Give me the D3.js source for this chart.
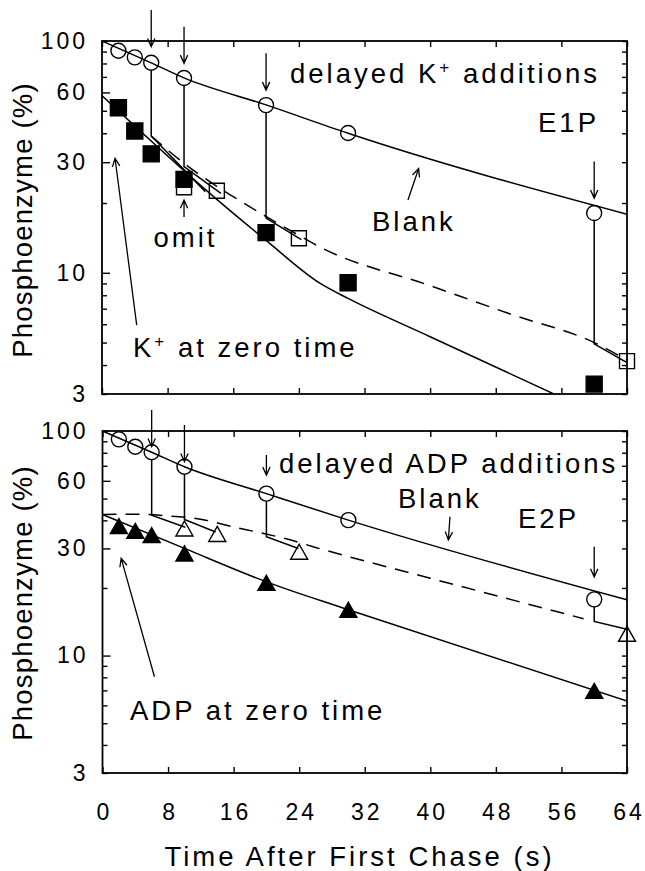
<!DOCTYPE html>
<html>
<head>
<meta charset="utf-8">
<script src="https://cdn.jsdelivr.net/npm/d3@7"></script>
<style>
  body { margin: 0; background: #fff; }
  svg { display: block; font-family: "Liberation Sans", Arial, Helvetica, sans-serif; }
</style>
</head>
<body>
<svg id="chart" width="645" height="871"></svg>
<script>
// sample times (s) of the blank and zero-time series
var sampleTimes = [ 2, 4, 6, 10, 20, 30, 60 ];
// ligand added late at these times, sampled 4 s later
var additionTimes = [ 6, 10, 20, 60 ];
var delayedTimes = [ 10, 14, 24, 64 ];

// ---- E1P panel (top), phosphoenzyme %
var e1pBlank = [ 90.8, 85.0, 80.6, 69.2, 52.9, 40.1, 18.1 ];
var e1pKZero = [ 51.5, 40.9, 32.6, 25.3, 14.9, 9.06, 3.31 ];
var e1pKDelayed = [ 23.4, 22.6, 14.1, 4.16 ];
var e1pDropBottom = [ 38.9, 28.7, 17.2, 4.94 ];
var e1pDropEnd = [ [ 12.6, 22.4 ], [ 14.5, 22.0 ], [ 24.3, 13.9 ], [ 64, 4.1 ] ];
// fitted curves as [time, %]
var e1pBlankFit = [ [ 0, 100 ], [ 6, 80.5 ], [ 10, 69.3 ], [ 20, 53 ], [ 30, 40 ], [ 64, 17.9 ] ];
var e1pKZeroFit = [ [ 0, 58 ], [ 13.6, 21.3 ], [ 20, 13.8 ], [ 26.6, 9.0 ], [ 30, 7.75 ], [ 40, 5.3 ], [ 56, 2.9 ] ];
var e1pKDelayedFit = [ [ 6, 38.9 ], [ 10, 29.7 ], [ 14, 23.6 ], [ 16, 21.3 ], [ 24, 14.5 ], [ 26.6, 12.9 ], [ 40, 8.8 ], [ 50, 6.6 ], [ 60, 5.0 ], [ 64, 4.2 ] ];
// annotation arrows [t1, %1, t2, %2] (head at the second point)
var e1pArrows = [ [ 6, 136, 6, 94.5 ], [ 10, 115.3, 10, 80.1 ], [ 20, 88.5, 20, 61.4 ], [ 60, 30.2, 60, 21.0 ],
    [ 10, 17.4, 10, 20.6 ], [ 4.23, 5.95, 1.59, 31.2 ], [ 37.3, 20.6, 38.6, 28.2 ] ];

// ---- E2P panel (bottom)
var e2pBlank = [ 91.8, 85.1, 80.4, 69.3, 52.6, 40.1, 17.8 ];
var e2pAdpZero = [ 37.7, 35.9, 34.4, 28.5, 21.1, 16.0, 6.96 ];
var e2pAdpDelayed = [ 36.8, 34.8, 29.0, 12.5 ];
var e2pDropBottom = [ 42.2, 40.4, 33.8, 14.2 ];
var e2pDropEnd = [ [ 10.1, 37.3 ], [ 13.8, 35.5 ], [ 23.9, 30.0 ], [ 64, 13.1 ] ];
var e2pBlankFit = [ [ 0, 100 ], [ 6, 80.4 ], [ 10, 69.3 ], [ 20, 52.6 ], [ 30, 40.1 ], [ 64, 17.7 ] ];
var e2pAdpZeroFit = [ [ 0, 42.5 ], [ 10, 30 ], [ 20, 21.3 ], [ 30, 16 ], [ 64, 6.27 ] ];
var e2pAdpDelayedFit = [ [ 0, 42.5 ], [ 4.6, 42.6 ], [ 8.3, 41.8 ], [ 12.3, 40.3 ], [ 15.8, 37.5 ], [ 19, 35.4 ], [ 22.3, 33.2 ], [ 26, 30.3 ], [ 40, 22.1 ], [ 58.7, 14.6 ] ];
var e2pArrows = [ [ 6, 124, 6, 85.1 ], [ 10, 106.4, 10, 73.0 ], [ 20, 78.2, 20, 63.6 ], [ 60, 30.5, 60, 22.4 ],
    [ 6.34, 8.05, 2.28, 27.1 ], [ 42.4, 41.5, 42.2, 32.7 ] ];

// axes
var xTicks = [ 0, 8, 16, 24, 32, 40, 48, 56, 64 ];
var yTicks = [ 3, 4, 5, 6, 7, 8, 9, 10, 20, 30, 40, 50, 60, 70, 80, 90, 100 ];
var yLabelled = [ 3, 10, 30, 60, 100 ];
var yMajor = [ 10, 30, 60 ];

var svg = d3.select( "#chart" );
svg.append( "rect" ).attr( "width", 645 ).attr( "height", 871 ).attr( "fill", "#fff" );

var TICK_LS = 3;
var TEXT_LS = 3;

var panels = [ {
    id: "top",
    box: { left: 102, right: 627, top: 41, bottom: 394 },
    blank: e1pBlank, zero: e1pKZero, delayed: e1pKDelayed,
    blankFit: e1pBlankFit, zeroFit: e1pKZeroFit, delayedFit: e1pKDelayedFit,
    dropBottom: e1pDropBottom, dropEnd: e1pDropEnd, arrows: e1pArrows,
    shape: "square", xLabels: false, yTitleY: 220,
    labels: [
        { parts: [ [ "delayed K" ], [ "+", 1 ], [ " additions" ] ], x: 290, y: 83 },
        { parts: [ [ "E1P" ] ], x: 538, y: 132 },
        { parts: [ [ "Blank" ] ], x: 372, y: 231 },
        { parts: [ [ "omit" ] ], x: 184, y: 247, anchor: "middle" },
        { parts: [ [ "K" ], [ "+", 1 ], [ " at zero time" ] ], x: 133, y: 357 }
    ]
}, {
    id: "bottom",
    box: { left: 102.5, right: 627, top: 431, bottom: 773 },
    blank: e2pBlank, zero: e2pAdpZero, delayed: e2pAdpDelayed,
    blankFit: e2pBlankFit, zeroFit: e2pAdpZeroFit, delayedFit: e2pAdpDelayedFit,
    dropBottom: e2pDropBottom, dropEnd: e2pDropEnd, arrows: e2pArrows,
    shape: "triangle", xLabels: true, yTitleY: 603,
    labels: [
        { parts: [ [ "delayed ADP additions" ] ], x: 279, y: 473 },
        { parts: [ [ "Blank" ] ], x: 398, y: 508 },
        { parts: [ [ "E2P" ] ], x: 518, y: 528 },
        { parts: [ [ "ADP at zero time" ] ], x: 130, y: 720 }
    ]
} ];

panels.forEach( drawPanel );

// x axis title
svg.append( "text" )
    .attr( "x", 358 + TEXT_LS / 2 )
    .attr( "y", 866 )
    .attr( "text-anchor", "middle" )
    .attr( "font-size", 27.5 )
    .attr( "letter-spacing", TEXT_LS )
    .text( "Time After First Chase (s)" );

function drawPanel( p ) {
    var b = p.box;
    var x = d3.scaleLinear().domain( [ 0, 64 ] ).range( [ b.left, b.right ] );
    var y = d3.scaleLog().domain( [ 3, 100 ] ).range( [ b.bottom, b.top ] );
    var g = svg.append( "g" ).attr( "class", "panel-" + p.id );

    g.append( "clipPath" ).attr( "id", "clip-" + p.id )
        .append( "rect" )
        .attr( "x", b.left ).attr( "y", b.top )
        .attr( "width", b.right - b.left ).attr( "height", b.bottom - b.top );

    // axes, ticks point inward
    var left = g.append( "g" ).attr( "transform", "translate(" + b.left + ",0)" )
        .call( d3.axisLeft( y ).tickValues( yTicks ).tickSizeInner( -5 ).tickSizeOuter( 0 ).tickPadding( 17 )
            .tickFormat( function ( d ) { return yLabelled.indexOf( d ) >= 0 ? d : ""; } ) );
    left.selectAll( ".tick line" ).filter( function ( d ) { return yMajor.indexOf( d ) >= 0; } ).attr( "x2", 8 );
    g.append( "g" ).attr( "transform", "translate(" + b.right + ",0)" )
        .call( d3.axisRight( y ).tickValues( yTicks ).tickSizeInner( -5 ).tickSizeOuter( 0 ).tickFormat( "" ) );
    var bottom = g.append( "g" ).attr( "transform", "translate(0," + b.bottom + ")" )
        .call( d3.axisBottom( x ).tickValues( xTicks ).tickSizeInner( -6 ).tickSizeOuter( 0 ).tickPadding( 31 )
            .tickFormat( p.xLabels ? d3.format( "d" ) : "" ) );
    g.append( "g" ).attr( "transform", "translate(0," + b.top + ")" )
        .call( d3.axisTop( x ).tickValues( xTicks ).tickSizeInner( -6 ).tickSizeOuter( 0 ).tickFormat( "" ) );

    g.selectAll( ".domain" ).remove();
    g.selectAll( ".tick line" ).attr( "stroke", "#000" ).attr( "stroke-width", 1.4 );
    left.selectAll( "text" ).attr( "dx", TICK_LS );
    bottom.selectAll( "text" ).attr( "dx", TICK_LS / 2 );
    g.selectAll( ".tick text" )
        .attr( "fill", "#000" )
        .attr( "font-size", 23 )
        .attr( "font-family", "Liberation Sans, Arial, sans-serif" )
        .attr( "letter-spacing", TICK_LS );

    g.append( "rect" )
        .attr( "x", b.left ).attr( "y", b.top )
        .attr( "width", b.right - b.left ).attr( "height", b.bottom - b.top )
        .attr( "fill", "none" ).attr( "stroke", "#000" ).attr( "stroke-width", 1.8 );

    // y title
    g.append( "text" )
        .attr( "transform", "translate(32," + p.yTitleY + ") rotate(-90)" )
        .attr( "text-anchor", "middle" )
        .attr( "font-size", 27.5 )
        .attr( "letter-spacing", 1.2 )
        .text( "Phosphoenzyme (%)" );

    var line = d3.line()
        .x( function ( d ) { return x( d[ 0 ] ); } )
        .y( function ( d ) { return y( d[ 1 ] ); } )
        .curve( d3.curveMonotoneX );

    var curves = g.append( "g" ).attr( "clip-path", "url(#clip-" + p.id + ")" )
        .attr( "fill", "none" ).attr( "stroke", "#000" ).attr( "stroke-width", 1.5 );
    curves.append( "path" ).attr( "d", line( p.blankFit ) );
    curves.append( "path" ).attr( "d", line( p.zeroFit ) );
    curves.append( "path" ).attr( "d", line( p.delayedFit ) ).attr( "stroke-dasharray", "14 9" );

    // drops after the delayed additions: vertical fall then short decay
    var drops = additionTimes.map( function ( t, i ) {
        return { t: t, top: p.blank[ sampleTimes.indexOf( t ) ], bottom: p.dropBottom[ i ], end: p.dropEnd[ i ] };
    } );
    curves.selectAll( ".drop" ).data( drops ).enter().append( "path" )
        .attr( "class", "drop" )
        .attr( "d", function ( d ) {
            return "M" + x( d.t ) + "," + ( y( d.top ) + 7.5 ) +
                "L" + x( d.t ) + "," + y( d.bottom ) +
                "L" + x( d.end[ 0 ] ) + "," + y( d.end[ 1 ] );
        } );

    // arrows
    var ag = g.append( "g" ).attr( "stroke", "#000" ).attr( "stroke-width", 1.3 ).attr( "fill", "none" );
    ag.selectAll( "path" ).data( p.arrows ).enter().append( "path" )
        .attr( "d", function ( d ) {
            var x1 = x( d[ 0 ] ), y1 = y( d[ 1 ] ), x2 = x( d[ 2 ] ), y2 = y( d[ 3 ] );
            var a = Math.atan2( y2 - y1, x2 - x1 );
            var len = 9, spread = 0.42;
            var hx1 = x2 - len * Math.cos( a - spread ), hy1 = y2 - len * Math.sin( a - spread );
            var hx2 = x2 - len * Math.cos( a + spread ), hy2 = y2 - len * Math.sin( a + spread );
            return "M" + x1 + "," + y1 + "L" + x2 + "," + y2 +
                "M" + hx1 + "," + hy1 + "L" + x2 + "," + y2 + "L" + hx2 + "," + hy2;
        } );

    // markers
    var mk = g.append( "g" ).attr( "stroke", "#000" ).attr( "stroke-width", 1.4 );
    mk.selectAll( ".blank" ).data( p.blank ).enter().append( "circle" )
        .attr( "class", "blank" )
        .attr( "cx", function ( d, i ) { return x( sampleTimes[ i ] ); } )
        .attr( "cy", function ( d ) { return y( d ); } )
        .attr( "r", 7.5 )
        .attr( "fill", "none" );

    var tri = "M0,-7.5L8.5,7.5L-8.5,7.5Z";
    var openSq = "M-7.5,-7.5H7.5V7.5H-7.5Z";
    var fillSq = "M-8,-8H8V8H-8Z";

    mk.selectAll( ".delayed" ).data( p.delayed ).enter().append( "path" )
        .attr( "class", "delayed" )
        .attr( "d", p.shape === "square" ? openSq : tri )
        .attr( "fill", "none" )
        .attr( "transform", function ( d, i ) { return "translate(" + x( delayedTimes[ i ] ) + "," + y( d ) + ")"; } );

    mk.selectAll( ".zero" ).data( p.zero ).enter().append( "path" )
        .attr( "class", "zero" )
        .attr( "d", p.shape === "square" ? fillSq : tri )
        .attr( "fill", "#000" )
        .attr( "transform", function ( d, i ) { return "translate(" + x( sampleTimes[ i ] ) + "," + y( d ) + ")"; } );

    // text annotations
    p.labels.forEach( function ( lab ) {
        var t = g.append( "text" )
            .attr( "x", lab.x + ( lab.anchor === "middle" ? TEXT_LS / 2 : 0 ) )
            .attr( "y", lab.y )
            .attr( "text-anchor", lab.anchor || "start" )
            .attr( "font-size", 27.5 )
            .attr( "letter-spacing", TEXT_LS );
        var raised = false;
        lab.parts.forEach( function ( part ) {
            var s = t.append( "tspan" ).text( part[ 0 ] );
            if ( part[ 1 ] ) {
                s.attr( "font-size", 17 ).attr( "dy", -10 );
                raised = true;
            } else if ( raised ) {
                s.attr( "dy", 10 );
                raised = false;
            }
        } );
    } );
}
</script>
</body>
</html>
